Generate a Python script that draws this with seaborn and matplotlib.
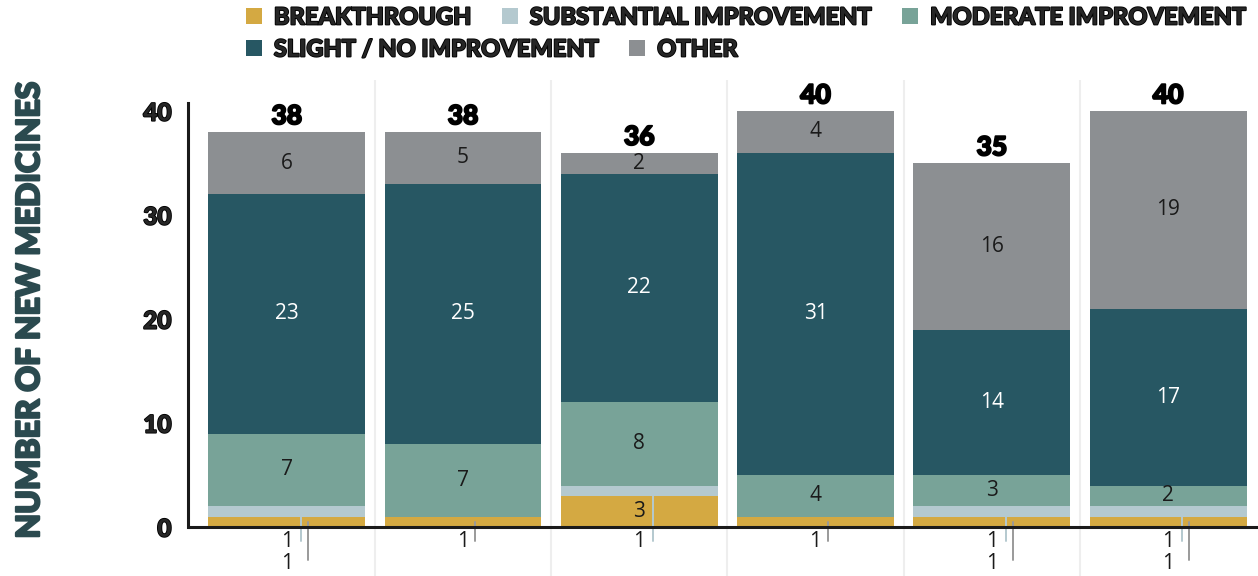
import pandas as pd
import matplotlib.pyplot as plt
import matplotlib.patheffects as pe
import seaborn as sns
from matplotlib.patches import Patch

# Values per bar (the periods are not labelled on the chart)
periods = ['P1', 'P2', 'P3', 'P4', 'P5', 'P6']
breakthrough = [1, 1, 3, 1, 1, 1]
substantial = [1, 0, 1, 0, 1, 1]
moderate = [7, 7, 8, 4, 3, 2]
slight = [23, 25, 22, 31, 14, 17]
other = [6, 5, 2, 4, 16, 19]

series_names = ['BREAKTHROUGH', 'SUBSTANTIAL IMPROVEMENT', 'MODERATE IMPROVEMENT',
                'SLIGHT / NO IMPROVEMENT', 'OTHER']
colors = ['#D4A942', '#B4C9CF', '#78A398', '#275763', '#8C8F92']

df = pd.DataFrame({'period': periods, 'breakthrough': breakthrough,
                   'substantial': substantial, 'moderate': moderate,
                   'slight': slight, 'other': other})
cols = ['breakthrough', 'substantial', 'moderate', 'slight', 'other']

# cumulative tops for the layered (stacked) bars
cum = df[cols].cumsum(axis=1)
cum['period'] = df['period']
bottoms = cum[cols].shift(1, axis=1).fillna(0)

sns.set_theme(style='white')
plt.rcParams['font.family'] = ['Lato', 'DejaVu Sans']


def thick(color, w=1.1):
    # fake a black weight by stroking the bold glyphs
    return [pe.withStroke(linewidth=w, foreground=color)]


heavy = dict(family=['Lato', 'DejaVu Sans'], fontweight='black')
plain = dict(family=['Open Sans', 'DejaVu Sans'])

fig = plt.figure(figsize=(12.58, 5.76), dpi=100)
ax = fig.add_axes([188 / 1258, 0, 1 - 188 / 1258, 496 / 576])

# draw from the total down so each layer covers the one above
for col, color in reversed(list(zip(cols, colors))):
    sns.barplot(data=cum, x='period', y=col, color=color, saturation=1,
                width=0.89, errorbar=None, linewidth=0, ax=ax, zorder=2)

# light separators between bars
for i in range(len(periods) - 1):
    ax.axvline(i + 0.5, color='#EEEEEE', lw=1.5, zorder=0)

for i in range(len(periods)):
    # labels inside segments
    for col in cols:
        v = df[col][i]
        b = bottoms[col][i]
        if v >= 2:
            tc = 'white' if col == 'slight' else '#1A1A1A'
            ax.text(i, b + v / 2, str(v), ha='center', va='center',
                    color=tc, fontsize=15, zorder=4, **plain)
    # small values shown below the axis with leader lines
    both_small = substantial[i] == 1 and breakthrough[i] == 1
    rows_y = [-1.35, -3.45]
    ends_y = [-1.35, -3.2]
    small = []
    if substantial[i] == 1:
        small.append((0.08, '#B4C9CF', breakthrough[i]))
    if breakthrough[i] == 1:
        small.append((0.12 if both_small else 0.07, '#9A9A9A', 0.5))
    for k, (off, lc, y0) in enumerate(small):
        ax.text(i, rows_y[k], '1', ha='center', va='center', color='#1A1A1A',
                fontsize=15, zorder=4, **plain)
        ax.plot([i + off, i + off], [y0, ends_y[k]], color=lc, lw=1.4, zorder=5)

# totals above bars
totals = cum['other']
for i, t in enumerate(totals):
    ax.text(i, t + 0.75, str(t), ha='center', va='baseline', fontsize=19,
            color='black', zorder=4, path_effects=thick('black', 1.4), **heavy)

ax.axhline(0, color='#1A1A1A', lw=2.2, zorder=6)
ax.set_ylim(-4.7, 43.0)
ax.set_xlim(-0.56, 5.51)
ax.set_yticks([0, 10, 20, 30, 40])
ax.set_yticklabels(['0', '10', '20', '30', '40'], fontsize=17.5, **heavy)
for lab in ax.get_yticklabels():
    lab.set_path_effects(thick('black', 1.3))
ax.tick_params(axis='y', length=0, pad=12)
ax.tick_params(axis='x', length=0, labelbottom=False)
ax.set_xlabel('')
for s in ['top', 'right', 'bottom']:
    ax.spines[s].set_visible(False)
ax.spines['left'].set_bounds(0, 40.8)
ax.spines['left'].set_linewidth(2.2)
ax.spines['left'].set_color('#1A1A1A')
ax.patch.set_alpha(0)

ax.set_ylabel('NUMBER OF NEW MEDICINES', fontsize=23, color='#2B4A4F',
              va='center', path_effects=thick('#2B4A4F', 1.6), **heavy)
ax.yaxis.set_label_coords(-0.148, 0.536)

# legend in two rows
handles = [Patch(facecolor=c, edgecolor='none', label=n) for n, c in zip(series_names, colors)]
leg_kw = dict(frameon=False, loc='center left', borderpad=0, borderaxespad=0,
              handlelength=0.68, handleheight=0.68, handletextpad=0.5,
              columnspacing=1.3, prop={'family': ['Lato', 'DejaVu Sans'],
                                       'weight': 'black', 'size': 17})
legs = [fig.legend(handles=handles[:3], ncol=3, bbox_to_anchor=(246 / 1258, 1 - 17 / 576), **leg_kw),
        fig.legend(handles=handles[3:], ncol=2, bbox_to_anchor=(246 / 1258, 1 - 49 / 576), **leg_kw)]
for leg in legs:
    for txt in leg.get_texts():
        txt.set_path_effects(thick('black', 1.3))

fig.savefig('out.png', dpi=100)
